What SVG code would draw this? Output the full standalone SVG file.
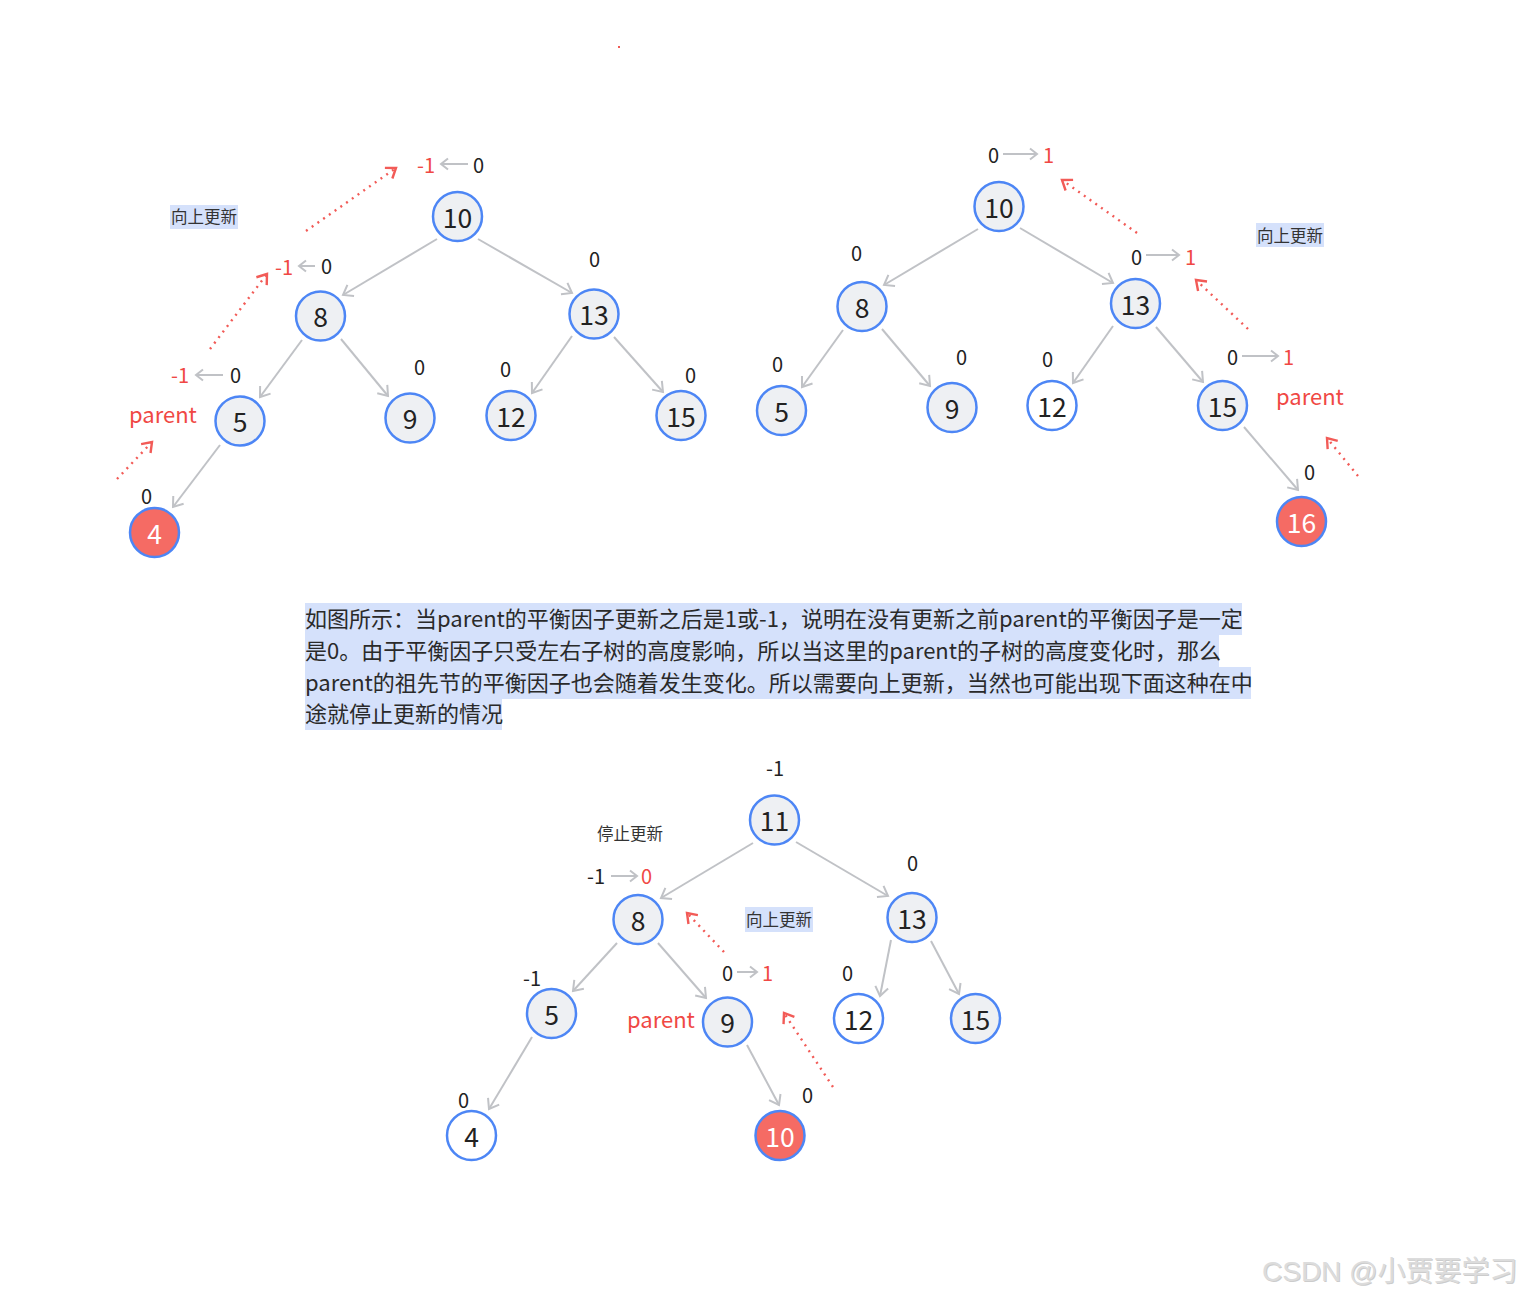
<svg xmlns="http://www.w3.org/2000/svg" width="1524" height="1297" viewBox="0 0 1524 1297">
<style>
.n circle{stroke:#4d86f5;stroke-width:2.5}
.g circle{fill:#eef0f3}
.w circle{fill:#ffffff}
.r circle{fill:#f56b64}
.n text{font-family:"Noto Sans CJK SC","Noto Sans",sans-serif;font-size:26.5px;text-anchor:middle;fill:#222}
.r text{fill:#fff}
.e line{stroke:#c0c2c6;stroke-width:2;fill:none}
.la line{stroke:#c0c2c6;stroke-width:2}
.d line{stroke:#f25b57;stroke-width:2.4;stroke-dasharray:2 5}
.t{font-family:"Noto Sans CJK SC","Noto Sans",sans-serif;font-size:20px;fill:#222}
.red{fill:#f04844}
.p{font-family:"Noto Sans CJK SC","Noto Sans",sans-serif;font-size:22px;fill:#f04844}
.s{font-family:"Noto Sans CJK SC",sans-serif;font-size:16.5px;fill:#333}
.hl{fill:#d5e1fb}
.para{font-family:"Noto Sans CJK SC",sans-serif;font-size:22px;fill:#2a2a2a}
</style>
<defs>
<marker id="ah" markerUnits="userSpaceOnUse" markerWidth="14" markerHeight="16" viewBox="0 0 14 16" refX="11" refY="8" orient="auto"><path d="M2,1.5 L11,8 L2,14.5" fill="none" stroke="#c0c2c6" stroke-width="2"/></marker>
<marker id="ahs" markerUnits="userSpaceOnUse" markerWidth="12" markerHeight="14" viewBox="0 0 12 14" refX="9" refY="7" orient="auto"><path d="M2,1.5 L9,7 L2,12.5" fill="none" stroke="#c0c2c6" stroke-width="2"/></marker>
<marker id="ahr" markerUnits="userSpaceOnUse" markerWidth="14" markerHeight="16" viewBox="0 0 14 16" refX="11" refY="8" orient="auto"><path d="M2,1.5 L11,8 L2,14.5" fill="none" stroke="#f25b57" stroke-width="2.4"/></marker>
</defs>
<rect width="1524" height="1297" fill="#fff"/>
<rect x="618" y="46" width="2" height="2" fill="#f05a55"/>

<g id="connectors">
<g class="e">
<line x1="437" y1="239" x2="343" y2="295" marker-end="url(#ah)"/>
<line x1="478" y1="239" x2="572" y2="293" marker-end="url(#ah)"/>
<line x1="302" y1="340" x2="260" y2="397" marker-end="url(#ah)"/>
<line x1="341" y1="339" x2="388" y2="396" marker-end="url(#ah)"/>
<line x1="572" y1="336" x2="532" y2="393" marker-end="url(#ah)"/>
<line x1="614" y1="337" x2="663" y2="392" marker-end="url(#ah)"/>
<line x1="220" y1="445" x2="173" y2="507" marker-end="url(#ah)"/>

<line x1="978" y1="229" x2="884" y2="285" marker-end="url(#ah)"/>
<line x1="1020" y1="228" x2="1113" y2="283" marker-end="url(#ah)"/>
<line x1="843" y1="330" x2="802" y2="387" marker-end="url(#ah)"/>
<line x1="882" y1="329" x2="930" y2="386" marker-end="url(#ah)"/>
<line x1="1113" y1="326" x2="1073" y2="383" marker-end="url(#ah)"/>
<line x1="1156" y1="327" x2="1203" y2="382" marker-end="url(#ah)"/>
<line x1="1244" y1="427" x2="1298" y2="490" marker-end="url(#ah)"/>

<line x1="753" y1="843" x2="661" y2="898" marker-end="url(#ah)"/>
<line x1="796" y1="842" x2="888" y2="896" marker-end="url(#ah)"/>
<line x1="617" y1="943" x2="573" y2="991" marker-end="url(#ah)"/>
<line x1="658" y1="943" x2="706" y2="998" marker-end="url(#ah)"/>
<line x1="891" y1="940" x2="880" y2="996" marker-end="url(#ah)"/>
<line x1="931" y1="941" x2="959" y2="994" marker-end="url(#ah)"/>
<line x1="532" y1="1037" x2="489" y2="1109" marker-end="url(#ah)"/>
<line x1="747" y1="1045" x2="779" y2="1105" marker-end="url(#ah)"/>
</g>
<g class="la">
<line x1="468" y1="164" x2="441" y2="164" marker-end="url(#ahs)"/>
<line x1="315" y1="266" x2="299" y2="266" marker-end="url(#ahs)"/>
<line x1="223" y1="375" x2="196" y2="375" marker-end="url(#ahs)"/>
<line x1="1003" y1="154" x2="1037" y2="154" marker-end="url(#ahs)"/>
<line x1="1146" y1="255" x2="1179" y2="255" marker-end="url(#ahs)"/>
<line x1="1242" y1="356" x2="1278" y2="356" marker-end="url(#ahs)"/>
<line x1="611" y1="876" x2="637" y2="876" marker-end="url(#ahs)"/>
<line x1="737" y1="972" x2="757" y2="972" marker-end="url(#ahs)"/>
</g>
<g class="d">
<line x1="306" y1="231" x2="396" y2="168" marker-end="url(#ahr)"/>
<line x1="210" y1="349" x2="267" y2="274" marker-end="url(#ahr)"/>
<line x1="117" y1="479" x2="152" y2="442" marker-end="url(#ahr)"/>
<line x1="1137" y1="233" x2="1062" y2="180" marker-end="url(#ahr)"/>
<line x1="1248" y1="329" x2="1196" y2="280" marker-end="url(#ahr)"/>
<line x1="1358" y1="476" x2="1327" y2="438" marker-end="url(#ahr)"/>
<line x1="724" y1="952" x2="687" y2="913" marker-end="url(#ahr)"/>
<line x1="833" y1="1087" x2="784" y2="1013" marker-end="url(#ahr)"/>
</g>
</g>

<g id="tree1">
<g id="t1-10" class="n g"><circle cx="457.5" cy="216.5" r="24.5"/><text x="457.5" y="228">10</text></g>
<g id="t1-8" class="n g"><circle cx="320.5" cy="316" r="24.5"/><text x="320.5" y="327">8</text></g>
<g id="t1-13" class="n g"><circle cx="594" cy="314" r="24.5"/><text x="594" y="325">13</text></g>
<g id="t1-5" class="n g"><circle cx="240" cy="421" r="24.5"/><text x="240" y="432">5</text></g>
<g id="t1-9" class="n g"><circle cx="410" cy="418" r="24.5"/><text x="410" y="429">9</text></g>
<g id="t1-12" class="n g"><circle cx="511" cy="415.5" r="24.5"/><text x="511" y="426.5">12</text></g>
<g id="t1-15" class="n g"><circle cx="681" cy="415.5" r="24.5"/><text x="681" y="426.5">15</text></g>
<g id="t1-4" class="n r"><circle cx="154.5" cy="532.5" r="24.5"/><text x="154.5" y="543.5">4</text></g>
</g>

<g id="tree2">
<g id="t2-10" class="n g"><circle cx="999" cy="206.5" r="24.5"/><text x="999" y="217.5">10</text></g>
<g id="t2-8" class="n g"><circle cx="862" cy="306.5" r="24.5"/><text x="862" y="317.5">8</text></g>
<g id="t2-13" class="n g"><circle cx="1135.5" cy="303.5" r="24.5"/><text x="1135.5" y="314.5">13</text></g>
<g id="t2-5" class="n g"><circle cx="781.5" cy="410.5" r="24.5"/><text x="781.5" y="421.5">5</text></g>
<g id="t2-9" class="n g"><circle cx="952" cy="407.5" r="24.5"/><text x="952" y="418.5">9</text></g>
<g id="t2-12" class="n w"><circle cx="1052" cy="405.5" r="24.5"/><text x="1052" y="416.5">12</text></g>
<g id="t2-15" class="n g"><circle cx="1222.5" cy="405.5" r="24.5"/><text x="1222.5" y="416.5">15</text></g>
<g id="t2-16" class="n r"><circle cx="1301.5" cy="521.5" r="24.5"/><text x="1301.5" y="532.5">16</text></g>
</g>

<g id="tree3">
<g id="t3-11" class="n g"><circle cx="774.5" cy="820" r="24.5"/><text x="774.5" y="831">11</text></g>
<g id="t3-8" class="n g"><circle cx="638" cy="919.5" r="24.5"/><text x="638" y="930.5">8</text></g>
<g id="t3-13" class="n g"><circle cx="912" cy="917.5" r="24.5"/><text x="912" y="928.5">13</text></g>
<g id="t3-5" class="n g"><circle cx="551.5" cy="1013.5" r="24.5"/><text x="551.5" y="1024.5">5</text></g>
<g id="t3-9" class="n g"><circle cx="727.5" cy="1022" r="24.5"/><text x="727.5" y="1033">9</text></g>
<g id="t3-12" class="n w"><circle cx="858.5" cy="1018.5" r="24.5"/><text x="858.5" y="1029.5">12</text></g>
<g id="t3-15" class="n g"><circle cx="975.5" cy="1018.5" r="24.5"/><text x="975.5" y="1029.5">15</text></g>
<g id="t3-4" class="n w"><circle cx="471.5" cy="1135.5" r="24.5"/><text x="471.5" y="1146.5">4</text></g>
<g id="t3-10" class="n r"><circle cx="780" cy="1135.5" r="24.5"/><text x="780" y="1146.5">10</text></g>
</g>

<g id="labels">
<text class="t red" x="417" y="173">-1</text><text class="t" x="473" y="173">0</text>
<text class="t red" x="275" y="275">-1</text><text class="t" x="321" y="274">0</text>
<text class="t red" x="171" y="383">-1</text><text class="t" x="230" y="383">0</text>
<text class="t" x="589" y="267">0</text>
<text class="t" x="414" y="375">0</text>
<text class="t" x="500" y="377">0</text>
<text class="t" x="685" y="383">0</text>
<text class="t" x="141" y="504">0</text>
<text class="p" x="129" y="423">parent</text>
<rect class="hl" x="170" y="205" width="68" height="24"/>
<text class="s" x="171" y="223">向上更新</text>

<text class="t" x="988" y="163">0</text><text class="t red" x="1043" y="163">1</text>
<text class="t" x="851" y="261">0</text>
<text class="t" x="1131" y="265">0</text><text class="t red" x="1185" y="265">1</text>
<text class="t" x="772" y="372">0</text>
<text class="t" x="956" y="365">0</text>
<text class="t" x="1042" y="367">0</text>
<text class="t" x="1227" y="365">0</text><text class="t red" x="1283" y="365">1</text>
<text class="p" x="1276" y="405">parent</text>
<text class="t" x="1304" y="480">0</text>
<rect class="hl" x="1256" y="223" width="68" height="24"/>
<text class="s" x="1257" y="242">向上更新</text>

<text class="t" x="766" y="776">-1</text>
<text class="s" x="597" y="840">停止更新</text>
<text class="t" x="587" y="884">-1</text><text class="t red" x="641" y="884">0</text>
<rect class="hl" x="745" y="907" width="68" height="25"/>
<text class="s" x="746" y="926">向上更新</text>
<text class="t" x="722" y="981">0</text><text class="t red" x="762" y="981">1</text>
<text class="t" x="523" y="986">-1</text>
<text class="p" x="627" y="1028">parent</text>
<text class="t" x="907" y="871">0</text>
<text class="t" x="842" y="981">0</text>
<text class="t" x="458" y="1108">0</text>
<text class="t" x="802" y="1103">0</text>
</g>

<g id="paragraph">
<rect class="hl" x="305" y="603" width="937" height="32"/>
<rect class="hl" x="305" y="635" width="914" height="32"/>
<rect class="hl" x="305" y="667" width="946" height="32"/>
<rect class="hl" x="305" y="699" width="197" height="31"/>
<text class="para" x="305" y="627">如图所示：当parent的平衡因子更新之后是1或-1，说明在没有更新之前parent的平衡因子是一定</text>
<text class="para" x="305" y="659">是0。由于平衡因子只受左右子树的高度影响，所以当这里的parent的子树的高度变化时，那么</text>
<text class="para" x="305" y="691">parent的祖先节的平衡因子也会随着发生变化。所以需要向上更新，当然也可能出现下面这种在中</text>
<text class="para" x="305" y="722">途就停止更新的情况</text>
</g>

<g id="watermark" font-family="'Liberation Sans','Noto Sans CJK SC',sans-serif" font-size="28">
<text x="1263" y="1282" fill="#9a9a9a" opacity="0.5">CSDN @小贾要学习</text>
<text x="1262" y="1281" fill="#dcdcdc">CSDN @小贾要学习</text>
</g>
</svg>
